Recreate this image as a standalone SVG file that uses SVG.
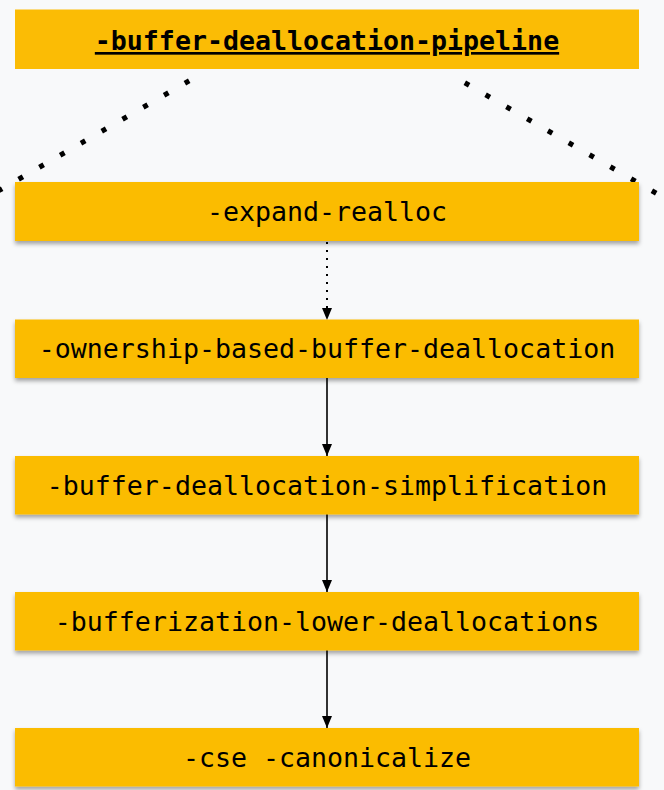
<svg xmlns="http://www.w3.org/2000/svg" width="664" height="790" viewBox="0 0 664 790">
  <style>
    .box { fill: #FBBC05; }
    .lbl { font-family: "DejaVu Sans Mono", "Liberation Mono", monospace; font-size: 26.6px; fill: #000; text-anchor: middle; }
    .title { font-weight: bold; text-decoration: underline; }
    .edge { stroke: #000; stroke-width: 1.6; fill: none; }
    .dotted { stroke-dasharray: 2 6; stroke-width: 2; }
    .zoomline { stroke: #000; stroke-width: 5; stroke-dasharray: 5 19; fill: none; }
  </style>
  <defs>
    <filter id="shadow" x="-5%" y="-20%" width="110%" height="160%">
      <feDropShadow dx="0" dy="3" stdDeviation="2.2" flood-color="#000" flood-opacity="0.35"/>
    </filter>
    <marker id="arrow" markerUnits="userSpaceOnUse" markerWidth="12" markerHeight="10" refX="12" refY="5" orient="auto">
      <path d="M0,0 L12,5 L0,10 z" fill="#000"/>
    </marker>
  </defs>
  <rect x="0" y="0" width="664" height="790" fill="#F8F9FA"/>

  <g id="connectors">
    <line class="zoomline" x1="189.2" y1="80.75" x2="-30" y2="207.3"/>
    <line class="zoomline" x1="464.8" y1="82.75" x2="700" y2="218.5"/>
    <line class="edge dotted" x1="327" y1="242" x2="327" y2="320" marker-end="url(#arrow)"/>
    <line class="edge" x1="327" y1="378" x2="327" y2="456" marker-end="url(#arrow)"/>
    <line class="edge" x1="327" y1="514" x2="327" y2="592" marker-end="url(#arrow)"/>
    <line class="edge" x1="327" y1="650" x2="327" y2="728" marker-end="url(#arrow)"/>
  </g>

  <g id="node-pipeline">
    <rect class="box" x="15" y="9.5" width="624" height="59.5"/>
    <text class="lbl title" x="327" y="50">-buffer-deallocation-pipeline</text>
  </g>
  <g id="node-expand-realloc">
    <rect class="box" x="15" y="182" width="624" height="59" filter="url(#shadow)"/>
    <text class="lbl" x="327" y="221">-expand-realloc</text>
  </g>
  <g id="node-ownership">
    <rect class="box" x="15" y="319.5" width="624" height="58.5" filter="url(#shadow)"/>
    <text class="lbl" x="327" y="358">-ownership-based-buffer-deallocation</text>
  </g>
  <g id="node-simplification">
    <rect class="box" x="15" y="456" width="624" height="58.5" filter="url(#shadow)"/>
    <text class="lbl" x="327" y="494.5">-buffer-deallocation-simplification</text>
  </g>
  <g id="node-lower">
    <rect class="box" x="15" y="592" width="624" height="58.5" filter="url(#shadow)"/>
    <text class="lbl" x="327" y="630.5">-bufferization-lower-deallocations</text>
  </g>
  <g id="node-cse">
    <rect class="box" x="15" y="728" width="624" height="58.5" filter="url(#shadow)"/>
    <text class="lbl" x="327" y="767">-cse -canonicalize</text>
  </g>
</svg>
